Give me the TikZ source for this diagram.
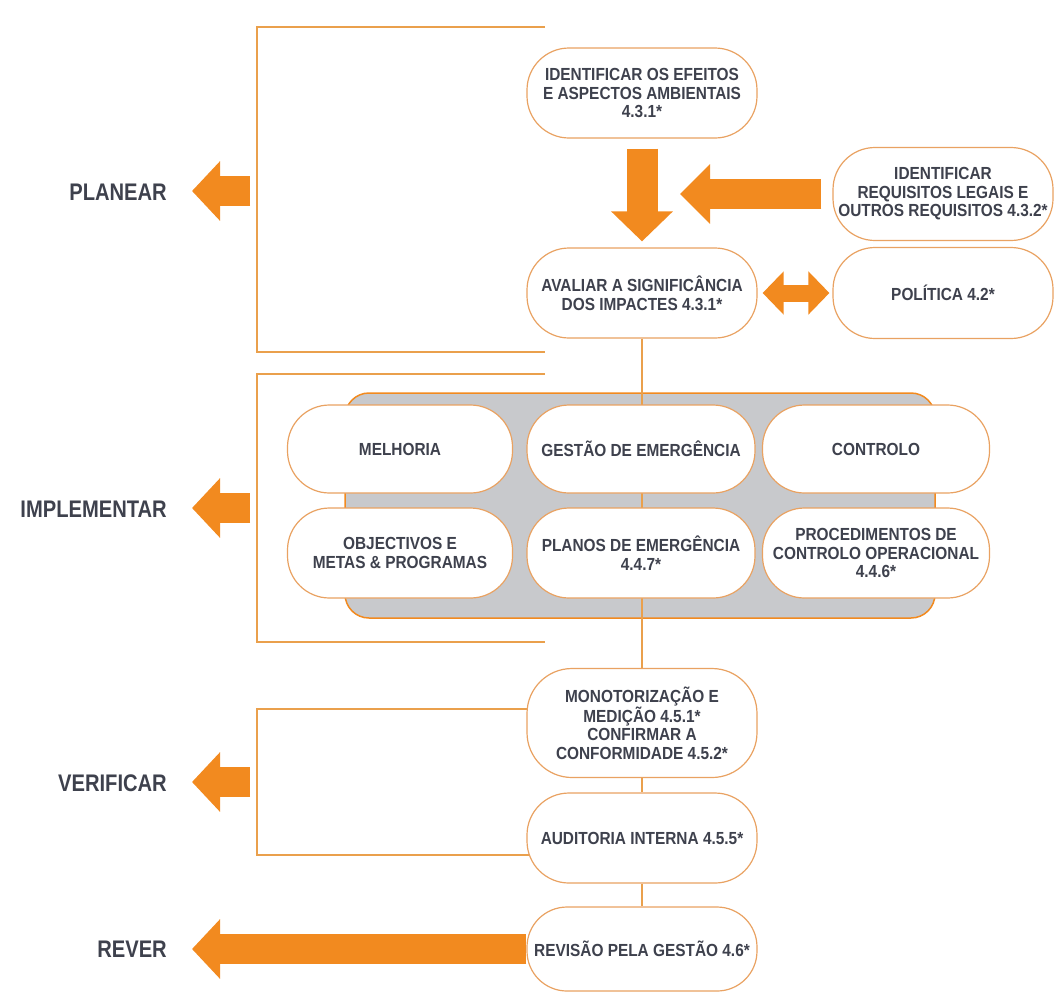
\documentclass[tikz,border=0pt]{standalone}
\usepackage{fontspec}
\setmainfont{Liberation Sans}
\newfontfamily\nodefont{Liberation Sans}[FakeStretch=0.88]
\newfontfamily\phasefont{Liberation Sans}[FakeStretch=0.84]
\usetikzlibrary{arrows.meta}
\definecolor{ink}{HTML}{3E414D}
\definecolor{brandorange}{HTML}{F28A1F}
\definecolor{pillline}{HTML}{E9A262}
\definecolor{rulecol}{HTML}{EAA04C}
\definecolor{panelgray}{HTML}{C8C9CC}
\begin{document}
\begin{tikzpicture}[x=1pt,y=-1pt,
  pill/.style={draw=pillline, line width=1.2pt, fill=white, rounded corners=42pt,
    inner sep=0pt, align=center, text=ink,
    font=\nodefont\fontsize{17.5}{18.5}\selectfont\bfseries},
  phase/.style={anchor=east, inner sep=0pt, text=ink,
    font=\phasefont\fontsize{24}{26}\selectfont\bfseries},
  bracketline/.style={draw=rulecol, line width=1.6pt},
  link/.style={draw=rulecol, line width=1.3pt},
  sidearrow/.style={draw=brandorange, line width=30pt,
    -{Triangle[width=58pt,length=28pt]}},
  panel/.style={draw=brandorange, line width=1.5pt, fill=panelgray, rounded corners=24pt}
]
\useasboundingbox (0,0) rectangle (1054,994);

% phase brackets
\draw[bracketline] (545,27) -- (257,27) -- (257,352) -- (545,352);
\draw[bracketline] (545,374) -- (257,374) -- (257,642) -- (545,642);
\draw[bracketline] (540,709) -- (257,709) -- (257,855) -- (540,855);

% implementation panel
\draw[panel] (345,393) rectangle (935,618);

% planning nodes
\node[pill, minimum width=230pt, minimum height=90pt] (efeitos) at (642,93)
  {IDENTIFICAR OS EFEITOS\\E ASPECTOS AMBIENTAIS\\4.3.1*};
\node[pill, minimum width=230pt, minimum height=90pt] (avaliar) at (642,293)
  {AVALIAR A SIGNIFICÂNCIA\\DOS IMPACTES 4.3.1*};
\node[pill, minimum width=220pt, minimum height=93pt] (requisitos) at (943,194)
  {IDENTIFICAR\\REQUISITOS LEGAIS E\\OUTROS REQUISITOS 4.3.2*};
\node[pill, minimum width=220pt, minimum height=91pt] (politica) at (943,293)
  {POLÍTICA 4.2*};

% checking and review nodes
\node[pill, minimum width=230pt, minimum height=109pt, rounded corners=45pt] (monit) at (642,723)
  {MONOTORIZAÇÃO E\\MEDIÇÃO 4.5.1*\\CONFIRMAR A\\CONFORMIDADE 4.5.2*};
\node[pill, minimum width=230pt, minimum height=90pt] (auditoria) at (642,838)
  {AUDITORIA INTERNA 4.5.5*};
\node[pill, minimum width=230pt, minimum height=84pt, rounded corners=40pt] (revisao) at (642,949)
  {REVISÃO PELA GESTÃO 4.6*};

% vertical flow line
\draw[link] (avaliar.south) -- (monit.north);
\draw[link] (monit.south) -- (auditoria.north);
\draw[link] (auditoria.south) -- (revisao.north);

% implementation nodes
\node[pill, minimum width=225pt, minimum height=88pt] (melhoria) at (400,449) {MELHORIA};
\node[pill, minimum width=228pt, minimum height=88pt] (gestao) at (641,449) {GESTÃO DE EMERGÊNCIA};
\node[pill, minimum width=227pt, minimum height=88pt] (controlo) at (876,449) {CONTROLO};
\node[pill, minimum width=225pt, minimum height=90pt] (objectivos) at (400,553)
  {OBJECTIVOS E\\METAS \& PROGRAMAS};
\node[pill, minimum width=228pt, minimum height=90pt] (planos) at (641,553)
  {PLANOS DE EMERGÊNCIA\\4.4.7*};
\node[pill, minimum width=227pt, minimum height=90pt] (procedimentos) at (876,553)
  {PROCEDIMENTOS DE\\CONTROLO OPERACIONAL\\4.4.6*};

% phase labels
\node[phase] (planear) at (167,192) {PLANEAR};
\node[phase] (implementar) at (167,509) {IMPLEMENTAR};
\node[phase] (verificar) at (167,783) {VERIFICAR};
\node[phase] (rever) at (167,949) {REVER};

% block arrows
\draw[draw=brandorange, line width=31pt, -{Triangle[width=60pt,length=30pt]},
  shorten <=10pt, shorten >=6pt] (efeitos) -- (avaliar);
\coordinate (reqtip) at (680,194);
\draw[draw=brandorange, line width=30pt, -{Triangle[width=58pt,length=30pt]},
  shorten <=11pt] (requisitos.west) -- (reqtip);
\draw[draw=brandorange, line width=17pt,
  {Triangle[width=42pt,length=21pt]}-{Triangle[width=42pt,length=21pt]},
  shorten <=5pt, shorten >=3pt] (avaliar) -- (politica);

\coordinate (planstart) at (250,191);
\coordinate (implstart) at (250,508);
\coordinate (verstart) at (250,782);
\draw[sidearrow, shorten >=25pt] (planstart) -- (planstart -| planear.east);
\draw[sidearrow, shorten >=25pt] (implstart) -- (implstart -| implementar.east);
\draw[sidearrow, shorten >=25pt] (verstart) -- (verstart -| verificar.east);
\draw[sidearrow, shorten >=25pt] (revisao.west) -- (revisao.west -| rever.east);
\end{tikzpicture}
\end{document}
